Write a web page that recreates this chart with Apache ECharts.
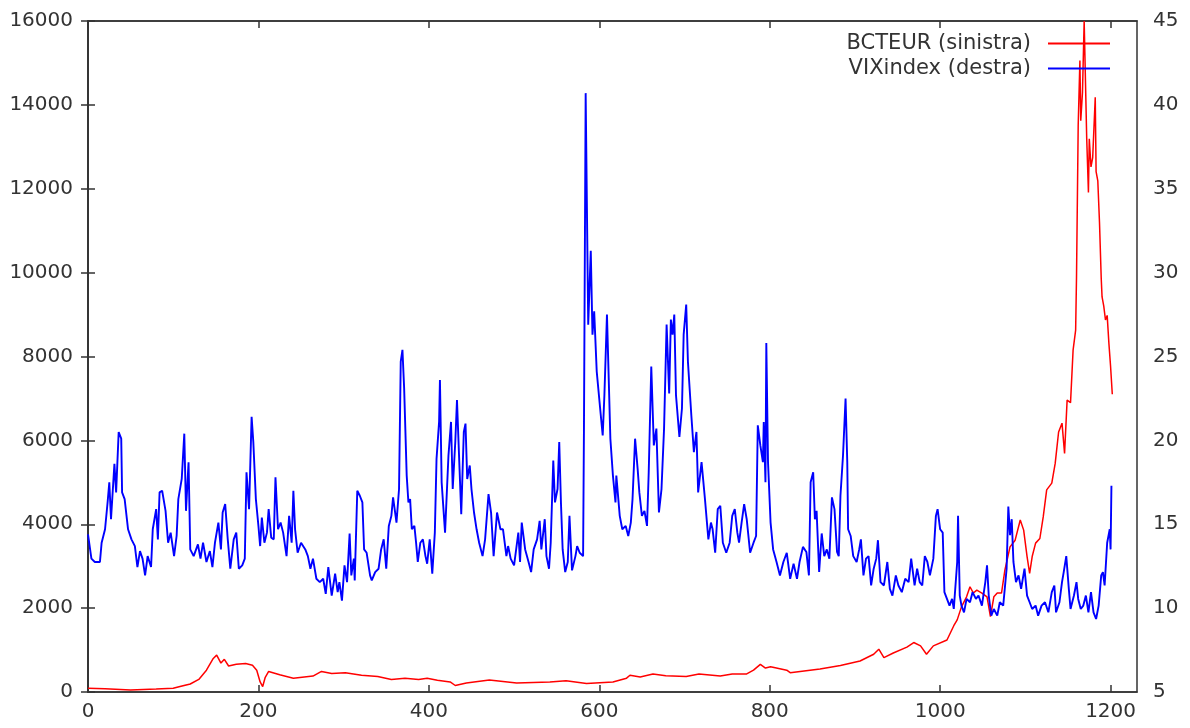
<!DOCTYPE html>
<html>
<head>
<meta charset="utf-8">
<script src="https://cdn.jsdelivr.net/npm/echarts@6/dist/echarts.min.js"></script>
<style>
html,body{margin:0;padding:0;background:#fff;}
#c{width:1190px;height:728px;}
</style>
</head>
<body>
<div id="c"></div>
<script>
// BCTEUR (left axis) — observation index and value
const btcX = [0,20,50,80,100,108,120,130,139,147,151,156,160,165,174,185,193,198,202,205,208,212,225,241,264,274,286,302,321,340,356,372,388,398,410,425,431,444,471,503,542,561,585,616,632,636,648,663,678,702,717,742,756,773,781,789,795,801,820,824,859,883,906,922,928,934,945,961,969,977,984,992,1008,1016,1020,1025,1031,1035,1039,1043,1049,1055,1059,1063,1067,1072,1076,1082,1088,1094,1098,1102,1105,1108,1112,1117,1121,1125,1131,1135,1139,1143,1146,1149,1153,1156,1159,1160,1162,1164,1165,1167,1169,1170,1172,1174,1175,1177,1179,1182,1183,1185,1187,1189,1190,1192,1194,1196,1198,1200,1202];
const btcY = [90,80,45,70,90,130,190,300,520,800,880,690,780,620,660,680,640,520,240,130,350,490,410,330,380,490,440,460,400,370,300,330,300,330,280,240,155,215,285,215,240,270,200,240,330,400,360,430,390,370,430,380,430,430,520,660,570,600,520,460,550,630,740,900,1020,820,930,1070,1180,1100,900,1100,1240,1580,1720,2030,2270,2510,2360,2430,2360,2270,1800,2270,2360,2360,2910,3460,3620,4100,3860,3230,2830,3230,3550,3660,4180,4820,4980,5450,6200,6410,5690,6960,6900,8150,8630,9870,13520,15060,13620,14290,16000,16000,13190,11910,13190,12520,12740,14180,12410,12190,11190,9870,9420,9200,8870,8980,8320,7760,7100];

// VIXindex (right axis)
const vixX = [0,4,8,14,16,20,23,25,27,31,33,36,39,40,43,47,51,55,58,61,64,67,70,74,76,80,82,84,87,91,94,97,101,104,106,110,113,115,118,120,124,129,132,135,139,143,146,149,153,156,158,161,164,167,171,174,177,181,184,186,189,192,194,197,200,202,204,207,210,212,215,218,220,223,226,229,233,236,239,241,243,246,250,255,258,261,264,268,272,276,279,282,286,290,293,295,298,301,304,307,309,312,313,316,319,322,324,327,331,333,337,341,344,347,350,353,356,358,360,362,365,367,369,371,374,376,378,380,383,385,387,390,393,396,398,401,404,407,409,412,413,415,419,423,426,428,431,433,436,438,441,443,445,448,450,453,456,459,463,466,470,473,476,480,484,487,491,493,496,500,505,507,509,513,517,520,523,527,530,532,536,538,541,543,546,548,551,553,555,557,560,563,565,568,572,574,577,581,582,584,587,590,592,594,597,601,604,606,609,613,616,619,620,624,627,631,634,637,639,642,645,647,650,653,656,658,661,664,667,670,673,676,679,682,684,686,688,690,694,697,699,702,704,708,711,714,716,720,724,728,731,733,736,739,742,745,749,753,756,759,762,764,767,770,773,777,781,784,786,789,792,793,795,796,798,801,804,808,812,816,820,824,828,832,835,839,843,846,848,851,853,855,858,861,864,867,870,873,876,879,881,883,886,889,891,892,895,898,902,905,907,910,913,916,919,922,925,927,930,934,938,941,944,948,951,955,959,963,966,970,973,976,979,982,985,988,992,995,997,1000,1003,1005,1008,1011,1014,1016,1020,1021,1023,1025,1028,1031,1035,1038,1042,1045,1049,1053,1055,1057,1060,1063,1067,1070,1074,1078,1080,1082,1084,1086,1089,1092,1095,1099,1102,1105,1108,1112,1115,1119,1123,1127,1131,1134,1136,1140,1143,1145,1148,1151,1153,1157,1160,1162,1165,1168,1171,1174,1177,1180,1183,1186,1189,1191,1193,1195,1196,1199,1200,1201];
const vixY = [14.4,12.95,12.75,12.75,13.9,14.7,16.3,17.5,15.3,18.6,16.9,20.5,20.1,16.9,16.5,14.7,14.1,13.7,12.45,13.4,12.95,11.95,13.1,12.45,14.7,15.9,14.1,16.9,17.0,15.8,13.9,14.5,13.1,14.3,16.5,17.7,20.4,15.8,18.7,13.5,13.1,13.8,12.95,13.9,12.75,13.4,12.45,13.9,15.1,13.5,15.7,16.2,14.1,12.35,14.1,14.5,12.35,12.55,12.95,18.1,15.9,21.4,19.9,16.5,14.9,13.7,15.4,13.9,14.5,15.9,14.2,14.1,17.8,14.7,15.1,14.5,13.1,15.5,13.9,17.0,14.7,13.3,13.9,13.5,13.1,12.35,12.95,11.75,11.55,11.75,10.85,12.45,10.75,12.05,10.95,11.55,10.45,12.55,11.55,14.45,11.95,12.95,11.65,17.0,16.7,16.3,13.5,13.3,11.95,11.65,12.15,12.35,13.5,14.1,12.35,14.9,15.5,16.6,16.7,15.1,17.1,24.7,25.4,23.1,17.9,16.3,16.5,14.7,14.9,13.9,12.75,13.9,14.1,13.1,12.65,14.1,12.05,14.5,18.9,21.1,23.6,17.5,14.5,19.1,21.1,17.1,19.9,22.4,18.3,15.6,20.5,21.0,17.7,18.5,17.1,15.7,14.7,13.9,13.1,14.1,16.8,15.7,13.1,15.7,14.7,14.7,13.1,13.7,12.95,12.55,14.5,12.75,15.1,13.5,12.75,12.15,13.5,14.1,15.2,13.5,15.3,13.1,12.35,13.9,18.8,16.3,17.1,19.9,16.3,13.5,12.15,12.75,15.5,12.25,13.1,13.7,13.3,13.1,20.7,40.7,26.9,31.3,26.3,27.7,24.1,21.9,20.3,22.7,27.5,20.1,17.9,16.3,17.9,15.5,14.7,14.9,14.3,15.1,16.5,20.1,18.3,16.9,15.5,15.8,14.9,18.1,24.4,19.7,20.7,15.7,17.1,20.7,26.9,22.8,27.2,26.3,27.5,22.7,20.2,21.9,26.3,28.1,24.7,21.5,19.3,20.5,16.9,18.7,16.5,14.1,15.1,14.7,13.3,15.9,16.1,13.9,13.3,13.9,15.5,15.9,14.5,13.9,15.1,16.2,15.3,13.3,13.9,14.3,20.9,19.7,18.7,21.1,17.5,25.8,18.7,15.1,13.5,12.75,11.95,12.75,13.3,11.75,12.65,11.75,12.75,13.65,13.35,11.95,17.5,18.1,15.3,15.8,12.15,14.45,13.1,13.5,12.95,16.6,15.9,13.35,13.1,16.7,19.1,22.5,18.7,14.7,14.3,13.1,12.75,13.5,14.1,11.95,12.95,13.1,11.35,12.35,12.95,14.05,11.55,11.35,12.75,11.15,10.75,11.95,11.35,10.95,11.75,11.55,12.95,11.35,12.35,11.55,11.35,13.1,12.75,11.95,12.95,15.5,15.9,14.7,14.5,10.95,10.55,10.15,10.55,9.95,12.75,15.5,10.75,10.15,9.75,10.55,10.35,10.95,10.55,10.75,10.15,11.55,12.55,10.75,9.55,9.95,9.55,10.35,10.15,12.35,16.05,14.35,15.3,12.75,11.55,11.95,11.15,12.35,10.75,10.35,9.95,10.15,9.55,10.15,10.35,9.75,10.95,11.35,9.75,10.35,11.55,12.15,13.1,11.15,9.95,10.75,11.55,10.55,9.95,10.15,10.75,9.75,10.95,9.75,9.35,10.15,11.95,12.15,11.35,11.35,13.9,14.7,13.5,17.3];

const xTicks = [0,200,400,600,800,1000,1200];

const zip = (xs, ys) => xs.map((x, i) => [x, ys[i]]);
const plain = v => String(v);
const FONT = 'DejaVu Sans';
const TXT = '#333';
const AX = '#333';

const chart = echarts.init(document.getElementById('c'), null, {renderer: 'canvas'});
chart.setOption({
  animation: false,
  backgroundColor: '#fff',
  grid: {left: 88, right: 53, top: 21, bottom: 36, show: true, borderColor: AX, borderWidth: 1.5, containLabel: false},
  legend: {
    orient: 'vertical', right: 75, top: 28, align: 'right',
    itemWidth: 62, itemHeight: 2, itemGap: 4, icon: 'rect',
    textStyle: {fontFamily: FONT, fontSize: 21, color: TXT, lineHeight: 20, padding: [0, 12, 0, 0]},
    data: ['BCTEUR (sinistra)', 'VIXindex (destra)']
  },
  xAxis: [
    {type: 'value', min: 0, max: 1231, interval: 200, position: 'bottom',
     axisLine: {show: true, lineStyle: {color: AX, width: 1.5}},
     axisTick: {show: true, inside: true, length: 7, lineStyle: {color: AX, width: 1.5},
       customValues: xTicks},
     axisLabel: {show: true, margin: 10, fontFamily: FONT, fontSize: 20, color: TXT,
       customValues: xTicks, formatter: plain},
     splitLine: {show: false}},
    {type: 'value', min: 0, max: 1231, interval: 200, position: 'top',
     axisLine: {show: true, lineStyle: {color: AX, width: 1.5}},
     axisTick: {show: true, inside: true, length: 7, lineStyle: {color: AX, width: 1.5},
       customValues: xTicks},
     axisLabel: {show: false},
     splitLine: {show: false}}
  ],
  yAxis: [
    {type: 'value', min: 0, max: 16000, interval: 2000, position: 'left',
     axisLine: {show: true, lineStyle: {color: AX, width: 1.5}},
     axisTick: {show: true, inside: true, length: 7, lineStyle: {color: AX, width: 1.5}},
     axisLabel: {margin: 15, fontFamily: FONT, fontSize: 20, color: TXT, formatter: plain},
     splitLine: {show: false}},
    {type: 'value', min: 5, max: 45, interval: 5, position: 'right',
     axisLine: {show: true, lineStyle: {color: AX, width: 1.5}},
     axisTick: {show: true, inside: true, length: 7, lineStyle: {color: AX, width: 1.5}},
     axisLabel: {margin: 16, fontFamily: FONT, fontSize: 20, color: TXT, formatter: plain},
     splitLine: {show: false}}
  ],
  series: [
    {name: 'BCTEUR (sinistra)', type: 'line', xAxisIndex: 0, yAxisIndex: 0,
     data: zip(btcX, btcY), showSymbol: false, symbol: 'none', color: '#ff0000',
     lineStyle: {color: '#ff0000', width: 1.5}, clip: true},
    {name: 'VIXindex (destra)', type: 'line', xAxisIndex: 0, yAxisIndex: 1,
     data: zip(vixX, vixY), showSymbol: false, symbol: 'none', color: '#0000ff',
     lineStyle: {color: '#0000ff', width: 1.9}, clip: true}
  ]
});
</script>
</body>
</html>
